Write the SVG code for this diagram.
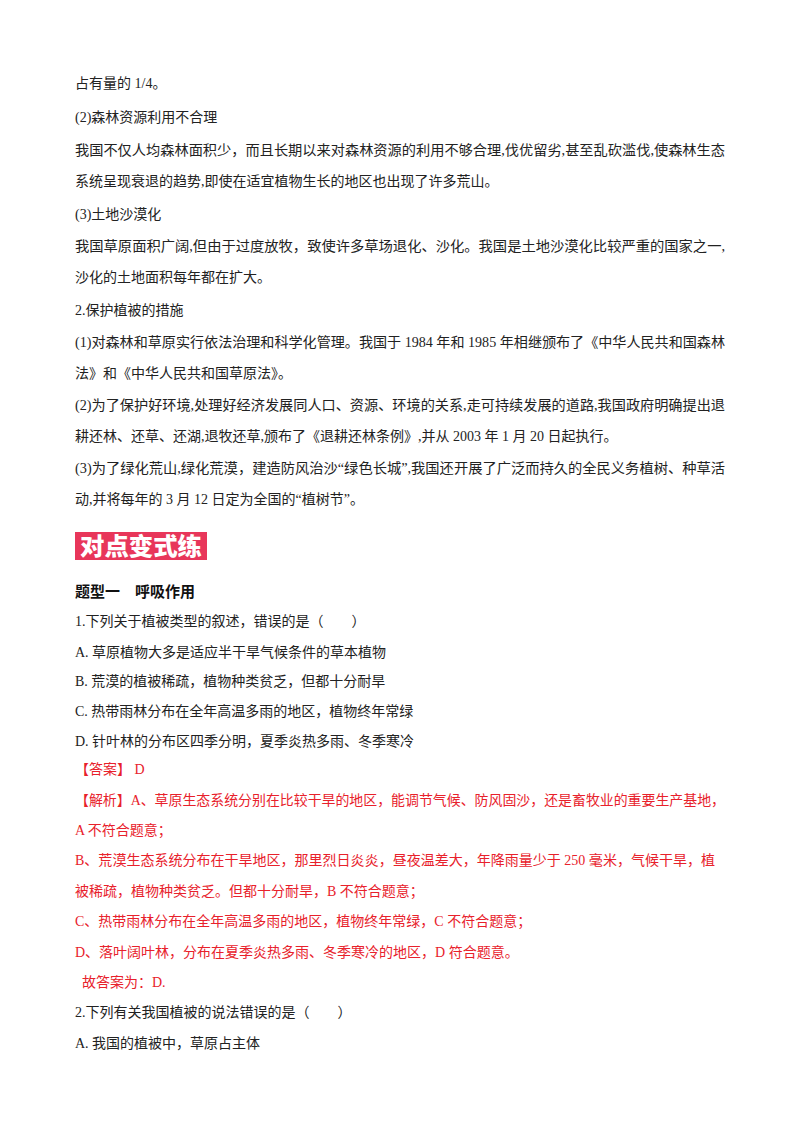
<svg xmlns="http://www.w3.org/2000/svg" width="800" height="1132" viewBox="0 0 800 1132">
<style>
text{font-family:"Liberation Serif","Noto Sans CJK SC",serif;font-size:14px;fill:#222}
.r{fill:#e8212b}
.b{font-family:"Noto Sans CJK SC",sans-serif;font-weight:bold;font-size:15px;fill:#111}
.t{font-family:"Noto Sans CJK SC",sans-serif;font-weight:900;font-size:24px;fill:#fff}
</style>
<rect width="800" height="1132" fill="#fff"/>
<text x="75" y="88">占有量的 1/4。</text>
<text x="75" y="122">(2)森林资源利用不合理</text>
<text x="75" y="155" textLength="650" lengthAdjust="spacingAndGlyphs">我国不仅人均森林面积少，而且长期以来对森林资源的利用不够合理,伐优留劣,甚至乱砍滥伐,使森林生态</text>
<text x="75" y="186">系统呈现衰退的趋势,即使在适宜植物生长的地区也出现了许多荒山。</text>
<text x="75" y="219">(3)土地沙漠化</text>
<text x="75" y="251" textLength="650" lengthAdjust="spacingAndGlyphs">我国草原面积广阔,但由于过度放牧，致使许多草场退化、沙化。我国是土地沙漠化比较严重的国家之一,</text>
<text x="75" y="282">沙化的土地面积每年都在扩大。</text>
<text x="75" y="315">2.保护植被的措施</text>
<text x="75" y="347" textLength="650" lengthAdjust="spacingAndGlyphs">(1)对森林和草原实行依法治理和科学化管理。我国于 1984 年和 1985 年相继颁布了《中华人民共和国森林</text>
<text x="75" y="378">法》和《中华人民共和国草原法》。</text>
<text x="75" y="410" textLength="650" lengthAdjust="spacingAndGlyphs">(2)为了保护好环境,处理好经济发展同人口、资源、环境的关系,走可持续发展的道路,我国政府明确提出退</text>
<text x="75" y="441">耕还林、还草、还湖,退牧还草,颁布了《退耕还林条例》,并从 2003 年 1 月 20 日起执行。</text>
<text x="75" y="473" textLength="650" lengthAdjust="spacingAndGlyphs">(3)为了绿化荒山,绿化荒漠，建造防风治沙“绿色长城”,我国还开展了广泛而持久的全民义务植树、种草活</text>
<text x="75" y="504">动,并将每年的 3 月 12 日定为全国的“植树节”。</text>
<g id="banner"><rect x="75" y="532" width="132" height="28" fill="#e8365a"/>
<text class="t" x="80" y="555" textLength="122" lengthAdjust="spacingAndGlyphs">对点变式练</text></g>
<text class="b" x="75" y="597">题型一　呼吸作用</text>
<text x="75" y="626">1.下列关于植被类型的叙述，错误的是（　　）</text>
<text x="75" y="657">A. 草原植物大多是适应半干旱气候条件的草本植物</text>
<text x="75" y="686">B. 荒漠的植被稀疏，植物种类贫乏，但都十分耐旱</text>
<text x="75" y="716">C. 热带雨林分布在全年高温多雨的地区，植物终年常绿</text>
<text x="75" y="746">D. 针叶林的分布区四季分明，夏季炎热多雨、冬季寒冷</text>
<text class="r" x="75" y="774">【答案】 D</text>
<text class="r" x="75" y="805" textLength="650" lengthAdjust="spacingAndGlyphs">【解析】A、草原生态系统分别在比较干旱的地区，能调节气候、防风固沙，还是畜牧业的重要生产基地，</text>
<text class="r" x="75" y="835">A 不符合题意；</text>
<text class="r" x="75" y="865" textLength="640" lengthAdjust="spacingAndGlyphs">B、荒漠生态系统分布在干旱地区，那里烈日炎炎，昼夜温差大，年降雨量少于 250 毫米，气候干旱，植</text>
<text class="r" x="75" y="896">被稀疏，植物种类贫乏。但都十分耐旱，B 不符合题意；</text>
<text class="r" x="75" y="926">C、热带雨林分布在全年高温多雨的地区，植物终年常绿，C 不符合题意；</text>
<text class="r" x="75" y="957">D、落叶阔叶林，分布在夏季炎热多雨、冬季寒冷的地区，D 符合题意。</text>
<text class="r" x="82" y="987">故答案为：D.</text>
<text x="75" y="1017">2.下列有关我国植被的说法错误的是（　　）</text>
<text x="75" y="1048">A. 我国的植被中，草原占主体</text>
</svg>
